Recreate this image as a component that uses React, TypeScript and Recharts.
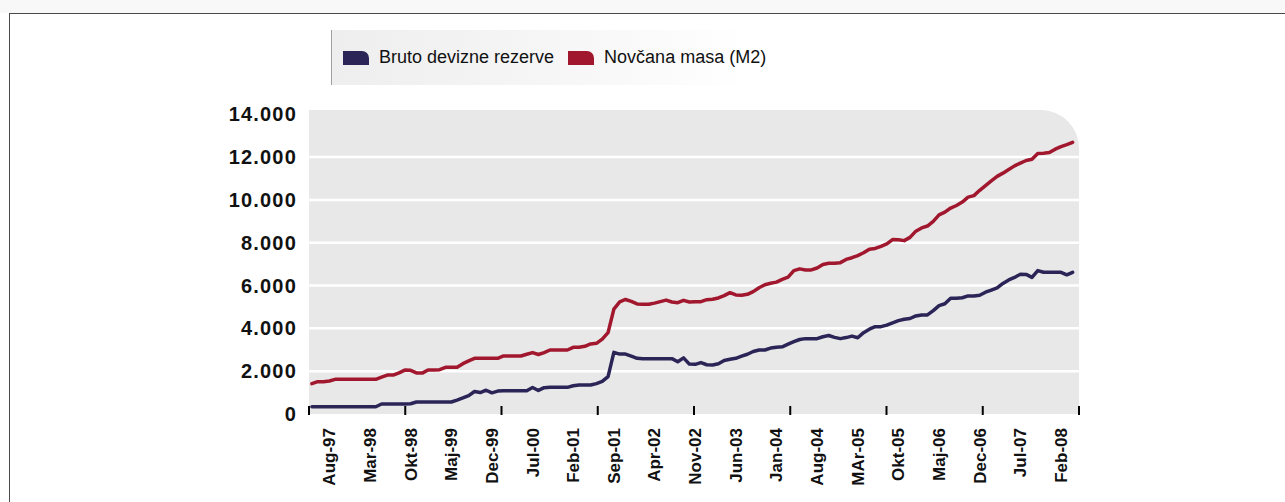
import { LineChart, Line, XAxis, YAxis, CartesianGrid, Legend } from "recharts";

// monthly values, May-97 .. Apr-08 (index 0 = May-97)
const bruto = [
  340, 340, 340, 340, 340, 340, 340, 340, 340, 340, 340, 340,
  467, 467, 467, 467, 467, 480, 560, 560, 560, 560, 560, 560,
  560, 650, 750, 860, 1050, 1000, 1110, 990, 1070, 1090, 1090, 1090,
  1090, 1090, 1240, 1100, 1230, 1246, 1246, 1246, 1246, 1320, 1355, 1355,
  1355, 1420, 1520, 1744, 2880, 2800, 2800, 2700, 2600, 2585, 2585, 2585,
  2585, 2585, 2585, 2440, 2620, 2330, 2320, 2400, 2300, 2290, 2350, 2500,
  2555, 2600, 2700, 2790, 2920, 2990, 2990, 3080, 3120, 3140, 3260, 3380,
  3480, 3520, 3520, 3520, 3610, 3665, 3580, 3520, 3570, 3640, 3560, 3800,
  3960, 4080, 4080, 4150, 4260, 4360, 4424, 4460, 4580, 4626, 4630, 4830,
  5060, 5150, 5405, 5405, 5430, 5515, 5515, 5550, 5690, 5790, 5890, 6100,
  6262, 6380, 6528, 6520, 6380, 6700, 6620, 6620, 6620, 6620, 6500, 6620,
];

const m2 = [
  1420, 1510, 1510, 1540, 1620, 1620, 1620, 1620, 1620, 1620, 1620, 1620,
  1720, 1820, 1820, 1920, 2050, 2040, 1920, 1910, 2056, 2056, 2070, 2180,
  2180, 2180, 2350, 2480, 2600, 2600, 2600, 2600, 2600, 2710, 2710, 2710,
  2710, 2790, 2870, 2780, 2870, 2990, 2990, 2990, 2990, 3115, 3115, 3160,
  3270, 3300, 3500, 3800, 4900, 5240, 5350, 5260, 5140, 5123, 5123, 5180,
  5248, 5320, 5230, 5200, 5310, 5230, 5248, 5248, 5340, 5357, 5420, 5530,
  5668, 5560, 5543, 5590, 5715, 5900, 6040, 6110, 6160, 6290, 6390, 6700,
  6780, 6730, 6730, 6820, 6980, 7041, 7041, 7070, 7220, 7300, 7400, 7530,
  7700, 7735, 7830, 7944, 8150, 8140, 8098, 8250, 8540, 8690, 8780, 9000,
  9300, 9430, 9620, 9740, 9900, 10130, 10200, 10450, 10670, 10890, 11100, 11250,
  11420, 11590, 11720, 11840, 11900, 12170, 12183, 12210, 12370, 12490, 12580, 12690,
];

const tickLabels = [
  "Aug-97", "Mar-98", "Okt-98", "Maj-99", "Dec-99", "Jul-00", "Feb-01",
  "Sep-01", "Apr-02", "Nov-02", "Jun-03", "Jan-04", "Aug-04", "MAr-05",
  "Okt-05", "Maj-06", "Dec-06", "Jul-07", "Feb-08",
];
const tickLabelIdx = [3, 10, 17, 24, 31, 38, 45, 52, 59, 66, 73, 80, 87, 94, 101, 108, 115, 122, 129];

const yTicks = [0, 2000, 4000, 6000, 8000, 10000, 12000, 14000];
const gridValues = [2000, 4000, 6000, 8000, 10000, 12000];

const BLUE = "#2b2456";
const RED = "#a1182e";

const X_DOMAIN: [number, number] = [-0.5, 132.1];
const markCount = 8;
const tickMarks = Array.from(
  { length: markCount + 1 },
  (_, k) => X_DOMAIN[0] + (k * (X_DOMAIN[1] - X_DOMAIN[0])) / markCount,
);

const data = bruto.map((b, i) => ({ i, bruto: b, m2: m2[i] }));

const labelFor = new Map(tickLabelIdx.map((idx, k) => [idx, tickLabels[k]]));
const markSet = new Set(tickMarks);
const allTicks = [...tickLabelIdx, ...tickMarks].sort((a, b) => a - b);

const FONT = '"Liberation Sans", Arial, Helvetica, sans-serif';

function XTick(props: any) {
  const { x, y, payload } = props;
  const v = payload.value;
  if (markSet.has(v)) {
    return <line x1={x} x2={x} y1={y - 8} y2={y + 1} stroke="#000" strokeWidth={2} />;
  }
  const label = labelFor.get(v);
  if (!label) return null;
  const ty = y + 14;
  return (
    <text
      x={x}
      y={ty}
      dy="0.35em"
      textAnchor="end"
      transform={`rotate(-90, ${x}, ${ty})`}
      fontFamily={FONT}
      fontSize={17}
      fontWeight="bold"
      fill="#111"
    >
      {label}
    </text>
  );
}

function fmtY(v: number) {
  return v === 0 ? "0" : `${v / 1000}.000`;
}

function LegendBox({ payload }: any) {
  return (
    <div
      style={{
        height: 55,
        width: 440,
        borderLeft: "1px solid #a0a0a0",
        background: "linear-gradient(to right, #eeeeee, #f6f6f6 50%, #ffffff 95%)",
        display: "flex",
        alignItems: "center",
        paddingLeft: 11,
        boxSizing: "border-box",
        fontFamily: FONT,
        fontSize: 18,
        color: "#111",
        whiteSpace: "nowrap",
      }}
    >
      {(payload || []).map((p: any) => (
        <span
          key={p.value}
          style={{ display: "flex", alignItems: "center", marginRight: 14, flexShrink: 0 }}
        >
          <span
            style={{
              display: "inline-block",
              width: 26,
              height: 14,
              background: p.color,
              borderTopRightRadius: 7,
              marginRight: 10,
            }}
          />
          {p.value}
        </span>
      ))}
    </div>
  );
}

export default function App() {
  return (
    <div
      style={{
        position: "absolute",
        left: 0,
        top: 0,
        width: 1285,
        height: 502,
        background: "#fff",
        overflow: "hidden",
        fontFamily: FONT,
      }}
    >
      <div style={{ position: "absolute", left: 0, top: 0, width: 1285, height: 13, background: "#f8f8f8" }} />
      <div style={{ position: "absolute", left: 9, top: 13, width: 1276, height: 1, background: "#4a4a4a" }} />
      <div style={{ position: "absolute", left: 9, top: 13, width: 1, height: 489, background: "#4a4a4a" }} />
      <div
        style={{
          position: "absolute",
          left: 309,
          top: 110,
          width: 770,
          height: 304,
          background: "#e8e8e8",
          borderTopRightRadius: 38,
        }}
      />
      <div style={{ position: "absolute", left: 0, top: 0 }}>
        <LineChart width={1285} height={502} data={data} margin={{ top: 110, right: 206, bottom: 0, left: 0 }}>
          <CartesianGrid vertical={false} stroke="#ffffff" strokeWidth={2.5} horizontalValues={gridValues} />
          <XAxis
            type="number"
            dataKey="i"
            domain={X_DOMAIN}
            ticks={allTicks}
            interval={0}
            height={88}
            tickSize={0}
            tickMargin={0}
            axisLine={false}
            tickLine={false}
            tick={<XTick />}
          />
          <YAxis
            domain={[0, 14200]}
            ticks={yTicks}
            interval={0}
            width={309}
            tickSize={0}
            tickMargin={12}
            axisLine={false}
            tickLine={false}
            tickFormatter={fmtY}
            tick={{ fontFamily: FONT, fontSize: 20, fontWeight: "bold", fill: "#111", letterSpacing: 1.2 }}
          />
          <Legend
            verticalAlign="middle"
            align="center"
            content={<LegendBox />}
            wrapperStyle={{ position: "absolute", left: 331, top: 30, width: 440, height: 55 }}
          />
          <Line
            type="linear"
            dataKey="bruto"
            name="Bruto devizne rezerve"
            stroke={BLUE}
            strokeWidth={3.5}
            strokeLinejoin="round"
            strokeLinecap="round"
            dot={false}
            isAnimationActive={false}
          />
          <Line
            type="linear"
            dataKey="m2"
            name="Novčana masa (M2)"
            stroke={RED}
            strokeWidth={3.5}
            strokeLinejoin="round"
            strokeLinecap="round"
            dot={false}
            isAnimationActive={false}
          />
        </LineChart>
      </div>
    </div>
  );
}
